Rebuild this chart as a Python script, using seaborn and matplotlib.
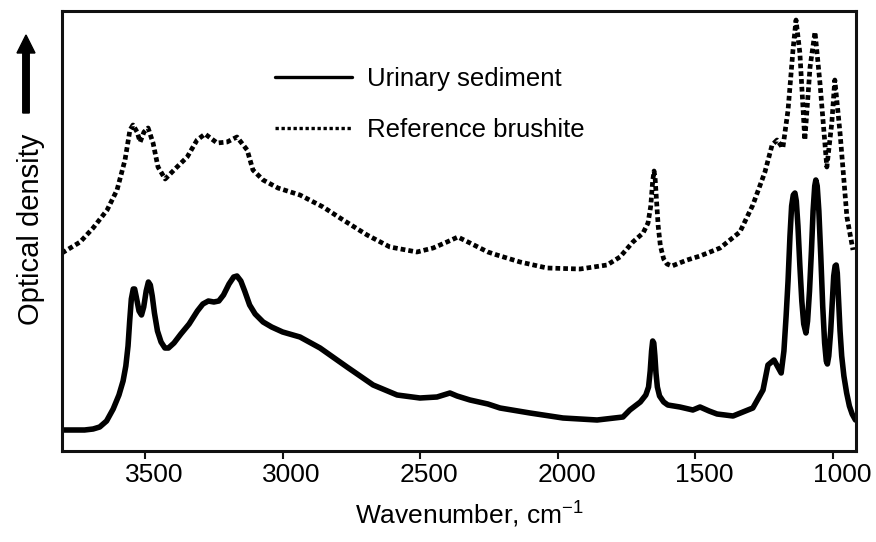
import numpy as np
import pandas as pd
import matplotlib
matplotlib.use("Agg")
import matplotlib.pyplot as plt
from matplotlib.lines import Line2D
from matplotlib.patches import FancyArrow
from matplotlib.transforms import ScaledTranslation
import seaborn as sns

# ---------------- data ----------------
sediment_wn = [3802, 3720, 3689, 3665, 3640, 3616, 3595, 3580, 3570, 3562, 3556, 3550, 3543, 3538,
               3532, 3522, 3513, 3505, 3496, 3488, 3481, 3474, 3466, 3455, 3442, 3428, 3415, 3395,
               3370, 3340, 3310, 3290, 3270, 3250, 3232, 3215, 3195, 3178, 3166, 3152, 3138, 3120,
               3100, 3071, 3040, 3000, 2937, 2864, 2766, 2671, 2584, 2501, 2439, 2392, 2366, 2319,
               2254, 2210, 2101, 1981, 1857, 1763, 1738, 1700, 1680, 1670, 1664, 1659, 1655, 1651,
               1647, 1643, 1638, 1630, 1615, 1600, 1556, 1509, 1483, 1450, 1421, 1363, 1291, 1254,
               1236, 1214, 1200, 1188, 1178, 1170, 1163, 1156, 1150, 1144, 1138, 1133, 1127, 1120,
               1113, 1106, 1098, 1092, 1085, 1078, 1072, 1066, 1062, 1057, 1051, 1044, 1037, 1030,
               1024, 1020, 1015, 1008, 1002, 997, 992, 988, 984, 979, 974, 968, 960, 950, 940, 930,
               918]
sediment_od = [0.21, 0.21, 0.22, 0.24, 0.30, 0.42, 0.56, 0.70, 0.85, 1.05, 1.30, 1.52, 1.62, 1.62,
               1.54, 1.40, 1.36, 1.44, 1.60, 1.69, 1.66, 1.55, 1.38, 1.20, 1.09, 1.03, 1.03, 1.08,
               1.17, 1.27, 1.40, 1.47, 1.50, 1.49, 1.50, 1.56, 1.67, 1.74, 1.75, 1.70, 1.60, 1.46,
               1.37, 1.29, 1.24, 1.19, 1.14, 1.03, 0.84, 0.66, 0.56, 0.53, 0.54, 0.58, 0.55, 0.51,
               0.47, 0.43, 0.38, 0.33, 0.31, 0.34, 0.41, 0.49, 0.56, 0.64, 0.80, 1.00, 1.10, 1.08,
               0.95, 0.78, 0.64, 0.55, 0.49, 0.46, 0.44, 0.41, 0.44, 0.40, 0.37, 0.35, 0.43, 0.61,
               0.86, 0.91, 0.84, 0.78, 1.00, 1.35, 1.70, 2.15, 2.45, 2.56, 2.58, 2.50, 2.25, 1.85,
               1.50, 1.27, 1.18, 1.30, 1.60, 2.00, 2.40, 2.65, 2.71, 2.65, 2.40, 1.95, 1.45, 1.08,
               0.90, 0.87, 0.95, 1.20, 1.50, 1.75, 1.85, 1.86, 1.78, 1.50, 1.20, 0.95, 0.75, 0.58,
               0.45, 0.37, 0.31]

brushite_wn = [3802, 3736, 3689, 3638, 3602, 3573, 3555, 3544, 3529, 3518, 3504, 3489, 3471, 3453,
               3427, 3384, 3347, 3311, 3282, 3238, 3202, 3166, 3129, 3108, 3071, 3017, 2937, 2853,
               2780, 2693, 2610, 2512, 2453, 2403, 2363, 2319, 2254, 2221, 2137, 2039, 1919, 1821,
               1774, 1727, 1690, 1672, 1662, 1655, 1650, 1646, 1641, 1635, 1627, 1615, 1603, 1585,
               1530, 1483, 1410, 1338, 1291, 1247, 1221, 1203, 1182, 1163, 1145, 1134, 1120, 1102,
               1083, 1065, 1047, 1022, 1004, 993, 974, 949, 927]
brushite_od = [1.98, 2.09, 2.23, 2.41, 2.61, 2.91, 3.21, 3.26, 3.19, 3.09, 3.19, 3.23, 3.08, 2.84,
               2.72, 2.84, 2.94, 3.11, 3.17, 3.08, 3.09, 3.14, 3.01, 2.81, 2.71, 2.63, 2.56, 2.44,
               2.31, 2.16, 2.04, 1.99, 2.03, 2.09, 2.14, 2.08, 1.99, 1.96, 1.89, 1.83, 1.82, 1.86,
               1.94, 2.09, 2.18, 2.28, 2.45, 2.70, 2.80, 2.72, 2.50, 2.25, 2.05, 1.92, 1.87, 1.85,
               1.91, 1.95, 2.03, 2.19, 2.46, 2.79, 3.06, 3.11, 3.03, 3.41, 4.01, 4.31, 3.98, 3.11,
               3.84, 4.19, 3.68, 2.84, 3.28, 3.71, 3.18, 2.34, 2.01]

series_names = ["Urinary sediment", "Reference brushite"]
x_ticks = [3500, 3000, 2500, 2000, 1500, 1000]
x_label = "Wavenumber, cm$^{-1}$"
y_label = "Optical density"

# ---------------- style ----------------
sns.set_style("white")
plt.rcParams["font.family"] = ["Liberation Sans", "DejaVu Sans"]
plt.rcParams["mathtext.fontset"] = "custom"
plt.rcParams["mathtext.rm"] = "Liberation Sans"
plt.rcParams["mathtext.it"] = "Liberation Sans:italic"
for k in ["text.color", "axes.labelcolor", "xtick.color", "ytick.color", "axes.edgecolor"]:
    plt.rcParams[k] = "black"

W, H, DPI = 876, 542, 100
fig = plt.figure(figsize=(W / DPI, H / DPI), dpi=DPI)
ax = fig.add_axes([62 / W, 1 - 451 / H, (856 - 62) / W, (451 - 11) / H])

df_sed = pd.DataFrame({"wn": sediment_wn, "od": sediment_od})
df_bru = pd.DataFrame({"wn": brushite_wn, "od": brushite_od})

sns.lineplot(data=df_sed, x="wn", y="od", ax=ax, color="black", lw=4.0,
             estimator=None, sort=False, solid_joinstyle="round", solid_capstyle="round")
sns.lineplot(data=df_bru, x="wn", y="od", ax=ax, color="black", lw=3.4,
             estimator=None, sort=False, linestyle=(0, (1.0, 0.65)))

ax.set_xlim(3802, 916)
ax.set_ylim(0, 4.40)
ax.set_xticks(x_ticks)
ax.set_xticklabels([str(t) for t in x_ticks])
ax.set_yticks([])
ax.set_xlabel("")
ax.set_ylabel("")

for sp in ax.spines.values():
    sp.set_visible(True)
    sp.set_color("#111111")
    sp.set_linewidth(2.2)

ax.tick_params(axis="x", direction="out", length=6, width=1.5, color="#111111",
               labelcolor="black", labelsize=19, pad=2.5, bottom=True, top=False)
off = ScaledTranslation(9 / DPI, 0, fig.dpi_scale_trans)
for lab in ax.get_xticklabels():
    lab.set_transform(lab.get_transform() + off)

# axis labels
fig.text(470 / W, 1 - 515 / H, x_label, ha="center", va="center", fontsize=19, color="black")
fig.text(31 / W, 1 - 229 / H, y_label, ha="center", va="center", rotation=90, fontsize=21,
         color="black")

# arrow next to the y label
arrow = FancyArrow(26 / DPI, (H - 113) / DPI, 0, (113 - 35) / DPI, width=0.065,
                   head_width=0.18, head_length=0.18, length_includes_head=True,
                   color="black", transform=fig.dpi_scale_trans)
fig.add_artist(arrow)

# legend
handles = [Line2D([], [], color="black", lw=2.4),
           Line2D([], [], color="black", lw=2.4, linestyle=(0, (1.0, 0.8)))]
leg = ax.legend(handles, series_names, loc="upper left", bbox_to_anchor=(0.268, 0.872),
                frameon=False, fontsize=18.5, handlelength=3.0, handletextpad=0.6,
                labelspacing=1.05, borderpad=0, borderaxespad=0)
for t in leg.get_texts():
    t.set_color("black")

fig.savefig("out.png", dpi=DPI)
